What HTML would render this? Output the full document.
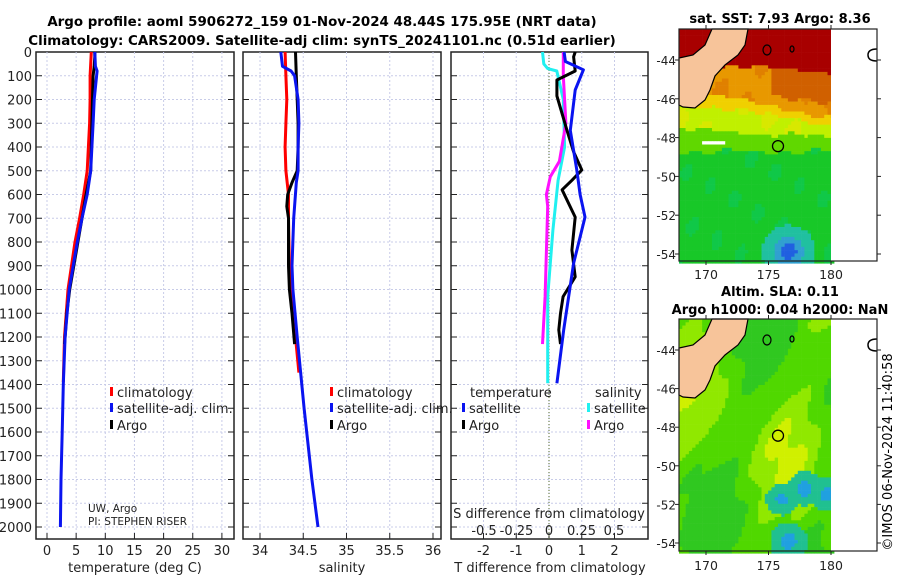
<!DOCTYPE html>
<html><head><meta charset="utf-8"><style>
html,body{margin:0;padding:0;background:#fff;}
svg{display:block;font-family:"DejaVu Sans","Liberation Sans",sans-serif;}
</style></head><body>
<svg id="fig" width="900" height="580" viewBox="0 0 900 580" xmlns="http://www.w3.org/2000/svg">
<text x="322" y="26" font-size="13.4" font-weight="bold" text-anchor="middle">Argo profile: aoml 5906272_159 01-Nov-2024 48.44S 175.95E (NRT data)</text>
<text x="322" y="45" font-size="13.4" font-weight="bold" text-anchor="middle">Climatology: CARS2009. Satellite-adj clim: synTS_20241101.nc (0.51d earlier)</text>
<g id="panels"></g>
<g id="maps"></g>
<text transform="translate(892,452) rotate(-90)" font-size="13" text-anchor="middle">©IMOS 06-Nov-2024 11:40:58</text>
</svg>
<script>
// ---- data arrays ----
const depthTicks=[0,100,200,300,400,500,600,700,800,900,1000,1100,1200,1300,1400,1500,1600,1700,1800,1900,2000];
const tempTicks=[0,5,10,15,20,25,30];
const salTicks=[34,34.5,35,35.5,36];
const tdiffTicks=[-2,-1,0,1,2];
const sdiffTicks=[-0.5,-0.25,0,0.25,0.5];
const sdiffTickLabels=["-0.5","-0.25","0","0.25","0.5"];

const tArgoDepth=[0,20,60,100,200,300,400,500,550,600,700,800,900,1000,1100,1200,1230];
const tArgoVal=[8.2,8.2,8.1,7.9,7.8,7.7,7.6,7.5,7.1,6.7,6.0,5.3,4.6,3.9,3.4,3.1,3.0];
const tSatDepth=[0,60,80,100,200,300,400,500,600,700,800,900,1000,1200,1400,1600,1800,2000];
const tSatVal=[8.2,8.3,8.6,8.5,8.1,7.9,7.7,7.5,6.9,6.0,5.2,4.5,3.8,3.1,2.8,2.6,2.4,2.3];
const tClimDepth=[0,100,200,300,400,500,600,700,800,900,1000,1200,1390];
const tClimVal=[7.6,7.4,7.4,7.3,7.1,6.9,6.3,5.6,4.8,4.2,3.6,3.0,2.8];

const sArgoDepth=[0,100,200,300,400,500,550,600,650,700,800,900,1000,1100,1230];
const sArgoVal=[34.41,34.42,34.43,34.44,34.44,34.43,34.37,34.32,34.31,34.33,34.33,34.33,34.34,34.37,34.40];
const sSatDepth=[0,60,80,100,200,300,400,500,550,700,900,1000,1200,1500,1800,2000];
const sSatVal=[34.24,34.26,34.36,34.40,34.44,34.45,34.44,34.44,34.42,34.39,34.37,34.38,34.43,34.51,34.60,34.67];
const sClimDepth=[0,100,200,300,400,500,600,700,900,1000,1200,1350];
const sClimVal=[34.29,34.30,34.31,34.30,34.29,34.30,34.33,34.33,34.34,34.36,34.41,34.45];

const dtArgoDepth=[0,20,80,118,185,330,420,497,540,580,695,834,947,1030,1100,1170,1230];
const dtArgoVal=[0.8,0.75,0.8,0.24,0.24,0.55,0.75,1.0,0.7,0.4,0.8,0.7,0.8,0.43,0.35,0.3,0.35];
const dtSatDepth=[0,40,75,160,330,497,600,695,890,1170,1395];
const dtSatVal=[0.46,0.5,1.05,0.8,0.65,0.85,0.95,1.1,0.75,0.45,0.24];
const dsSatDepth=[0,50,70,80,200,400,540,750,1030,1395];
const dsSatVal=[-0.05,-0.04,-0.01,0.06,0.11,0.12,0.07,0.03,-0.01,-0.01];
const dsArgoDepth=[0,100,300,460,525,600,650,1030,1230];
const dsArgoVal=[0.11,0.11,0.13,0.08,0.01,-0.02,-0.01,-0.03,-0.05];

// ---- geometry ----
const NS="http://www.w3.org/2000/svg";
const Y0=52, KY=0.2375, BOT=539, TOP=52;
const yD=d=>Y0+d*KY;
const xT=v=>47+v*5.83;
const xS=v=>260+(v-34)*86.5;
const xDT=v=>549+v*32.75;
const xDS=v=>549+v*130;
const panels=[{l:36,r:234,n:'temperature'},{l:243,r:441,n:'salinity'},{l:451,r:648,n:'difference'}];
const G=document.getElementById('panels');
function mk(tag,attrs,parent){const e=document.createElementNS(NS,tag);for(const k in attrs)e.setAttribute(k,attrs[k]);(parent||G).appendChild(e);return e;}
function txt(x,y,s,size,anchor,parent){const t=mk('text',{x:x,y:y,'font-size':size,'text-anchor':anchor||'start',fill:'#222'},parent);t.textContent=s;return t;}

panels.forEach((p,i)=>{
  const g=mk('g',{});
  
  
  depthTicks.forEach(d=>{
    const y=yD(d);
    const gl=mk('line',{x1:p.l,x2:p.r,y1:y,y2:y,stroke:'#c8cce8','stroke-width':1,'stroke-dasharray':'2,2'},g);
    
    
    mk('line',{x1:p.l,x2:p.l+6,y1:y,y2:y,stroke:'#222'},g);
    mk('line',{x1:p.r-6,x2:p.r,y1:y,y2:y,stroke:'#222'},g);
  });
  const fr=mk('rect',{x:p.l,y:TOP,width:p.r-p.l,height:BOT-TOP,fill:'none',stroke:'#222','stroke-width':1.5},g);
  
  
});
depthTicks.forEach(d=>{
  const t=txt(32,yD(d)+5,String(d),13,'end');
  
  
});
function xticks(ticks,fx,labels,ylab){
  ticks.forEach((v,k)=>{
    const x=fx(v);
    const gl=mk('line',{x1:x,x2:x,y1:TOP,y2:BOT,stroke:'#c8cce8','stroke-dasharray':'2,2'});
    
    
    mk('line',{x1:x,x2:x,y1:BOT-6,y2:BOT,stroke:'#222'});
    const t=txt(x,ylab,labels?labels[k]:String(v),13,'middle');
    
    
  });
}
xticks(tempTicks,xT,null,555);
xticks(salTicks,xS,null,555);
xticks(tdiffTicks,xDT,null,555);
sdiffTicks.forEach((v,k)=>{
  const t=txt(xDS(v),535,sdiffTickLabels[k],13,'middle');
  
  
});
const zl=mk('line',{x1:549,x2:549,y1:TOP,y2:BOT,stroke:'#556b2f','stroke-width':1,'stroke-dasharray':'1,2'});



function series(ds,vs,fx,color,name){
  const pts=ds.map((d,i)=>fx(vs[i]).toFixed(1)+','+yD(d).toFixed(1)).join(' ');
  const pl=mk('polyline',{points:pts,fill:'none',stroke:color,'stroke-width':3,'stroke-linejoin':'round'});
  
  
}
series(tClimDepth,tClimVal,xT,'#ff0000','temp-climatology-line');
series(tArgoDepth,tArgoVal,xT,'#000000','temp-argo-line');
series(tSatDepth,tSatVal,xT,'#0a14f0','temp-satellite-line');
series(sClimDepth,sClimVal,xS,'#ff0000','sal-climatology-line');
series(sArgoDepth,sArgoVal,xS,'#000000','sal-argo-line');
series(sSatDepth,sSatVal,xS,'#0a14f0','sal-satellite-line');
series(dsSatDepth,dsSatVal,xDS,'#20f0f0','sdiff-satellite-line');
series(dsArgoDepth,dsArgoVal,xDS,'#ff10ff','sdiff-argo-line');
series(dtArgoDepth,dtArgoVal,xDT,'#000000','tdiff-argo-line');
series(dtSatDepth,dtSatVal,xDT,'#0a14f0','tdiff-satellite-line');

[[135,572,'temperature (deg C)','temp-axis-title'],[342,572,'salinity','sal-axis-title'],[550,572,'T difference from climatology','tdiff-axis-title'],[549,518,'S difference from climatology','sdiff-axis-title']].forEach(a=>{
  const t=txt(a[0],a[1],a[2],13,'middle');
  
  
});
function leg(x,y,color,label,name){
  mk('rect',{x:x,y:y-10,width:3,height:9,fill:color});
  const t=txt(x+7,y,label,13,'start');
  
  
}
leg(110,397,'#ff0000','climatology','legend-climatology');
leg(110,413,'#0a14f0','satellite-adj. clim.','legend-satellite');
leg(110,430,'#000000','Argo','legend-argo');
leg(330,397,'#ff0000','climatology','legend-climatology-2');
leg(330,413,'#0a14f0','satellite-adj. clim.','legend-satellite-2');
leg(330,430,'#000000','Argo','legend-argo-2');
{const t=txt(470,397,'temperature',13);
 
 
 const t2=txt(595,397,'salinity',13);
 
 }
leg(462,413,'#0a14f0','satellite','legend-tdiff-satellite');
leg(462,430,'#000000','Argo','legend-tdiff-argo');
leg(587,413,'#20f0f0','satellite','legend-sdiff-satellite');
leg(587,430,'#ff10ff','Argo','legend-sdiff-argo');
{const t=txt(88,512,'UW, Argo',10.5);
 
 
 const t2=txt(88,525,'PI: STEPHEN RISER',10.5);
 
 }

// ---- maps ----
const M=document.getElementById('maps');
function mm(tag,a,p){const e=document.createElementNS(NS,tag);for(const k in a)e.setAttribute(k,a[k]);(p||M).appendChild(e);return e;}
const maps=[{top:29,bot:261,lat44:60,k:19.4,name:'sst-map',title:['sat. SST: 7.93 Argo: 8.36'],ty:[23],lony:279},
            {top:319,bot:551,lat44:350,k:19.3,name:'sla-map',title:['Altim. SLA: 0.11','Argo h1000: 0.04 h2000: NaN'],ty:[296,314],lony:570}];
const lonTicks=[170,175,180];
const latTicks=[-44,-46,-48,-50,-52,-54];
const xLon=v=>706+(v-170)*12.5;
maps.forEach((m,mi)=>{
  const g=mm('g',{});
  
  
  const L=679,R=831,F=877;
  const yl=v=>m.lat44+(-44-v)*m.k;
  const cw=3.3,rows=Math.ceil((m.bot-m.top)/cw),cols=Math.ceil((R-L)/cw);
  for(let r=0;r<rows;r++){for(let c=0;c<cols;c++){
    const x=L+c*cw,y=m.top+r*cw;let col;
    const w=Math.sin(c*0.7+r*0.3)*0.5+Math.sin(c*0.23-r*0.41)*0.5;
    if(mi===0){
      const xf=(x-L)/(R-L);
      const yy=y+w*3;
      const bRed=62+xf*8, bOr=88+xf*28, bYel=100+xf*24, bYG=128+xf*8, bG=150;
      if(yy<bRed)col='#a80000';
      else if(yy<bOr)col=(xf>0.6&&yy<bOr-12)?'#d06000':(w>0.3?'#e08000':'#e89800');
      else if(yy<bYel)col='#f0d000';
      else if(yy<bYG)col=(w>0.4?'#d8e800':'#c0f000');
      else if(yy<bG)col='#60d800';
      else col=(w>0.6?'#10c848':'#18c828');
      const dx=x-787,dy=y-250,d2=dx*dx+dy*dy;
      if(d2<60)col='#2060e0';else if(d2<220)col='#30a0d0';else if(d2<700)col='#20c0a0';
      if(y>138&&y<143&&x>700&&x<722)col='#ffffff';
    }else{
      const v=Math.sin(c*0.18+r*0.05)*0.6+Math.sin(r*0.09-c*0.07)*0.6+Math.sin(c*0.5+r*0.35)*0.2;
      col=v>0.95?'#d0f000':v>0.3?'#90e800':v>-0.4?'#50d800':'#30c820';
      [[787,540,60,350],[803,487,60,300],[825,493,40,300],[780,498,30,250]].forEach(b=>{
        const dx=x-b[0],dy=y-b[1],d2=dx*dx+dy*dy;
        if(d2<b[2])col='#20a0e0';else if(d2<b[3])col='#20c090';
      });
    }
    mm('rect',{x:x.toFixed(1),y:y.toFixed(1),width:cw+0.3,height:cw+0.3,fill:col},g);
  }}
  const o=m.top-29;
  const land=mm('polygon',{points:`712,${29+o} 748,${29+o} 745,${45+o} 738,${55+o} 725,${65+o} 715,${76+o} 710,${90+o} 705,${100+o} 695,${108+o} 683,${107+o} 679,${105+o} 679,${58+o} 693,${55+o} 705,${45+o}`,fill:'#f7c49a',stroke:'#000','stroke-width':1.2},g);
  
  
  mm('rect',{x:R,y:m.top,width:F-R,height:m.bot-m.top,fill:'#fff'},g);
  mm('path',{d:`M877,${m.top+20} q-9,0 -9,6 q0,6 9,6`,fill:'none',stroke:'#000','stroke-width':1.5},g);
  mm('ellipse',{cx:767,cy:m.top+21,rx:4,ry:5,fill:'none',stroke:'#000','stroke-width':1.2},g);
  mm('ellipse',{cx:792,cy:m.top+20,rx:2,ry:3,fill:'none',stroke:'#000','stroke-width':1.2},g);
  const pc=mm('circle',{cx:778,cy:yl(-48.44),r:5.5,fill:'none',stroke:'#000','stroke-width':1.3},g);
  
  
  mm('rect',{x:L,y:m.top,width:F-L,height:m.bot-m.top,fill:'none',stroke:'#222','stroke-width':1.2},g);
  latTicks.forEach(v=>{const y=yl(v);
    mm('line',{x1:L-4,x2:L,y1:y,y2:y,stroke:'#222'},g);
    mm('line',{x1:F,x2:F+4,y1:y,y2:y,stroke:'#222'},g);
    const t=mm('text',{x:L-3,y:y+5,'font-size':12,'text-anchor':'end',fill:'#222'},g);
    t.textContent=String(v);
    
    });
  lonTicks.forEach(v=>{const x=xLon(v);
    mm('line',{x1:x,x2:x,y1:m.bot,y2:m.bot+4,stroke:'#222'},g);
    mm('line',{x1:x,x2:x,y1:m.top-4,y2:m.top,stroke:'#222'},g);
    const t=mm('text',{x:x,y:m.lony,'font-size':12.5,'text-anchor':'middle',fill:'#222'},g);
    t.textContent=String(v);
    
    });
  m.title.forEach((tt,k)=>{
    const t=mm('text',{x:780,y:m.ty[k],'font-size':13,'font-weight':'bold','text-anchor':'middle'},g);
    t.textContent=tt;
    
    });
});
</script>
</body></html>
